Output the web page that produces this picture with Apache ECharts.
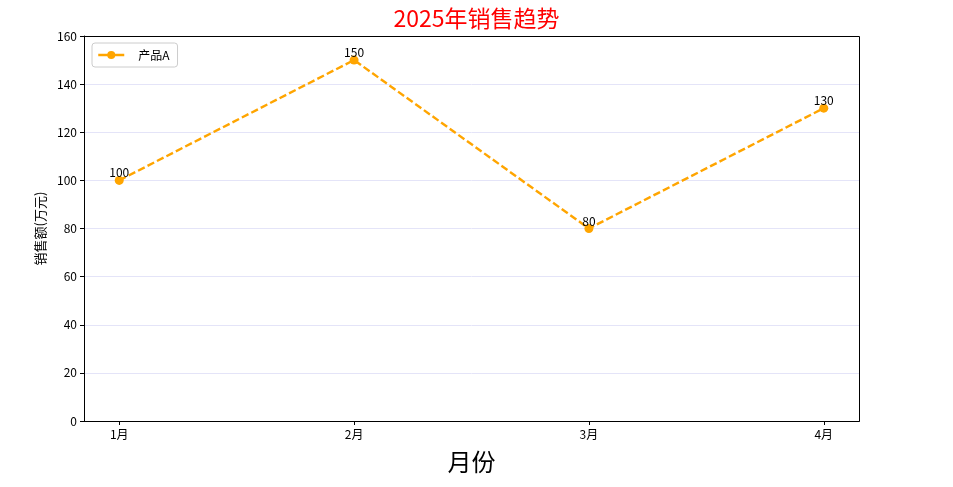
<!DOCTYPE html>
<html><head><meta charset="utf-8">
<script src="https://cdn.jsdelivr.net/npm/echarts@6/dist/echarts.min.js"></script>
<style>html,body{margin:0;padding:0;background:#fff}#c{width:953px;height:487px}</style>
</head><body><div id="c"></div>
<script>
const categories = ['1月', '2月', '3月', '4月'];
const salesA = [100, 150, 80, 130];
const yTicks = [0, 20, 40, 60, 80, 100, 120, 140, 160];
const seriesName = '产品A';

const F = '"Noto Sans CJK SC", "DejaVu Sans", sans-serif';
const chart = echarts.init(document.getElementById('c'), null, {renderer: 'canvas'});
const data = salesA.map((v, i) => [i, v]);
chart.setOption({
  animation: false,
  title: {text: '2025年销售趋势', left: 'center', top: 2, textStyle: {color: '#ff0000', fontSize: 23, fontWeight: 'normal', fontFamily: F}},
  legend: {
    left: 92, top: 43, padding: [6, 8, 6, 5], itemWidth: 26, itemHeight: 10, itemGap: 10,
    borderColor: '#cccccc', borderWidth: 1, borderRadius: 3,
    textStyle: {fontSize: 12, fontFamily: F, color: '#000', padding: [0, 0, 0, 9]},
    data: [{name: seriesName, lineStyle: {type: 'solid', width: 2.5}}]
  },
  grid: {left: 84, right: 94, top: 36, bottom: 66, containLabel: false, outerBoundsMode: 'none'},
  xAxis: {
    type: 'value', min: -0.15, max: 3.15,
    name: '月份', nameLocation: 'middle', nameGap: 29,
    nameTextStyle: {fontSize: 24, fontFamily: F, color: '#000'},
    axisLine: {show: true, onZero: false, lineStyle: {color: '#000', width: 1}},
    axisTick: {show: true, length: 4, lineStyle: {color: '#000'}, customValues: [0, 1, 2, 3]},
    axisLabel: {customValues: [0, 1, 2, 3], formatter: v => categories[Math.round(v)] || '', fontSize: 12, fontFamily: F, color: '#000', margin: 7},
    splitLine: {show: false}
  },
  yAxis: {
    type: 'value', min: 0, max: 160, interval: 20,
    name: '销售额(万元)', nameLocation: 'middle', nameGap: 36, nameRotate: 90,
    nameTextStyle: {fontSize: 13, fontFamily: F, color: '#000'},
    axisLine: {show: true, onZero: false, lineStyle: {color: '#000', width: 1}},
    axisTick: {show: true, length: 4, lineStyle: {color: '#000'}},
    axisLabel: {fontSize: 12, fontFamily: F, color: '#000', margin: 7},
    splitLine: {show: true, lineStyle: {color: '#e4e4f8', width: 1}}
  },
  graphic: [{
    type: 'rect', z: 10, silent: true,
    shape: {x: 84.5, y: 36.5, width: 775, height: 385},
    style: {fill: 'none', stroke: '#000', lineWidth: 1}
  }],
  series: [{
    name: seriesName, type: 'line', data: data,
    symbol: 'circle', symbolSize: 9,
    lineStyle: {color: '#ffa500', width: 2.4, type: [7.4, 3.2]},
    itemStyle: {color: '#ffa500'},
    label: {show: true, position: 'top', distance: -3, color: '#000', fontSize: 12, fontFamily: F,
      formatter: p => String(p.value[1])}
  }]
});
</script></body></html>
